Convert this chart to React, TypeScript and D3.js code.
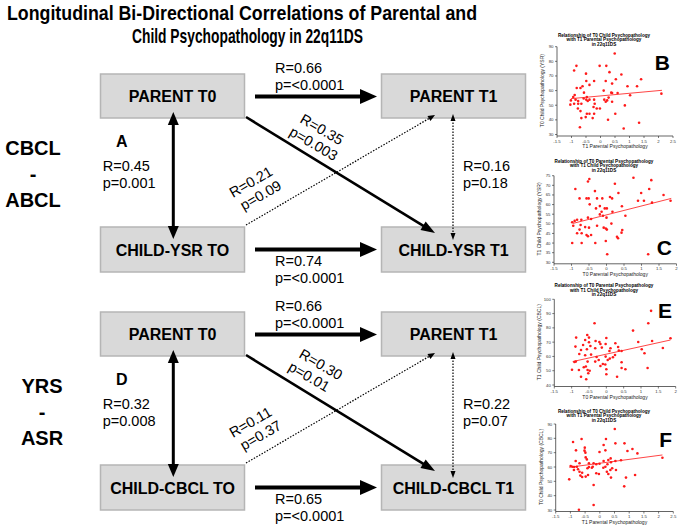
import React from "react";
import * as d3 from "d3";

type Pt = [number, number];

// ---------------- Diagram text / statistics ----------------
const titleLines = [
  "Longitudinal Bi-Directional Correlations  of Parental and",
  "Child Psychopathology in 22q11DS",
];
const sectionLabels = [
  ["CBCL", "-", "ABCL"],
  ["YRS", "-", "ASR"],
];
const panelLetters = ["A", "D"];
const parentBoxLabels = [
  ["PARENT T0", "PARENT T1"],
  ["PARENT T0", "PARENT T1"],
];
const childBoxLabels = [
  ["CHILD-YSR TO", "CHILD-YSR T1"],
  ["CHILD-CBCL TO", "CHILD-CBCL T1"],
];
const parentStability = [
  ["R=0.66", "p=<0.0001"],
  ["R=0.66", "p=<0.0001"],
];
const childStability = [
  ["R=0.74", "p=<0.0001"],
  ["R=0.65", "p=<0.0001"],
];
const crossT0 = [
  ["R=0.45", "p=0.001"],
  ["R=0.32", "p=0.008"],
];
const crossT1 = [
  ["R=0.16", "p=0.18"],
  ["R=0.22", "p=0.07"],
];
const parentToChild = [
  ["R=0.35", "p=0.003"],
  ["R=0.30", "p=0.01"],
];
const childToParent = [
  ["R=0.21", "p=0.09"],
  ["R=0.11", "p=0.37"],
];

// ---------------- Scatter plot data ----------------
const titleChildToParent = [
  "Relationship of T0 Child Psychopathology",
  "with T1 Parental Psychopathology",
  "in 22q11DS",
];
const titleParentToChild = [
  "Relationship of T0 Parental Psychopathology",
  "with T1 Child Psychopathology",
  "in 22q11DS",
];
const xTicksWide = [-1.5, -1, -0.5, 0, 0.5, 1, 1.5, 2, 2.5];
const xTicksNarrow = [-1.5, -1, -0.5, 0, 0.5, 1, 1.5, 2];
const yTicksB = [30, 40, 50, 60, 70, 80, 90];
const yTicksC = [30, 35, 40, 45, 50, 55, 60, 65, 70, 75];
const yTicksE = [40, 50, 60, 70, 80, 90, 100];
const yTicksF = [30, 40, 50, 60, 70, 80, 90];

const plotBPoints: Pt[] = [
  [0.49, 85.4], [-0.83, 76.9], [-0.03, 76.9], [0.2, 76.9], [-0.91, 73.7], [0.31, 72.6],
  [-0.5, 71.6], [0.72, 71], [0.53, 67.8], [-0.49, 66.6], [-0.22, 66.6], [0.18, 66.6],
  [1.4, 67.8], [0.4, 64.8], [-0.38, 63.9], [0.93, 63], [1.26, 63], [-0.82, 61.8],
  [-0.69, 61.8], [-0.62, 63], [-0.57, 58.6], [0.37, 58.6], [0.11, 60], [-0.89, 57],
  [-1.02, 53.3], [-0.94, 55.6], [-0.86, 53.8], [-0.77, 52.9], [-0.77, 51], [-1.04, 50.4],
  [-0.91, 51], [-0.66, 51], [-0.78, 47.8], [-0.69, 46], [-0.58, 54.6], [-0.49, 53.8],
  [-0.44, 52.9], [-0.38, 53.8], [-0.22, 53.8], [-0.2, 51], [-0.47, 55.6], [-0.13, 47.8],
  [-0.02, 47.8], [-0.24, 48.8], [0.13, 53.8], [0.18, 52.4], [0.23, 53.3], [0.28, 55.2],
  [0.4, 52.4], [0.4, 58.4], [0.59, 58.4], [0.84, 49.9], [1.02, 56.8], [2.1, 57.9],
  [0.51, 44.2], [-0.47, 44.2], [-0.38, 44.2], [-0.22, 44.2], [-0.51, 41.9], [-0.66, 41.2],
  [-0.27, 41.2], [0.26, 40.1], [-0.71, 35], [0.8, 34.1], [1.33, 38],
];
const plotBFit: Pt[] = [[-1.02, 54.5], [2.12, 60.2]];

const plotCPoints: Pt[] = [
  [0.77, 73.9], [1.28, 72.7], [-0.49, 73.3], [-0.53, 72], [0.24, 70.8], [-0.89, 68.1],
  [-0.33, 67], [0.34, 66], [1.22, 68.1], [0.99, 66], [1.63, 65], [-0.77, 63.2],
  [-0.57, 63.2], [-0.51, 63.2], [-0.27, 63.2], [-0.12, 63.2], [0.1, 63.9], [0.16, 63.2],
  [0.9, 62], [1.07, 62], [1.3, 61], [1.83, 62], [-0.48, 60.1], [-0.19, 59.2],
  [-0.3, 58], [-0.05, 58], [0.01, 58], [0.44, 59.1], [-0.14, 56.3], [-0.19, 54.9],
  [-0.1, 54.2], [0, 53.2], [0.17, 56.3], [0.54, 54.2], [-0.53, 53.2], [-0.44, 52.5],
  [-0.84, 52.1], [-0.91, 51.5], [-0.98, 50.8], [-0.72, 52.1], [-0.95, 49], [-0.74, 49.4],
  [-0.61, 48.3], [-0.5, 48], [-0.08, 48], [-0.02, 47.6], [0.01, 47], [0.14, 50.1],
  [-0.27, 49], [-0.77, 47], [-0.84, 45.1], [-0.71, 45.1], [-0.57, 44.2], [-0.53, 43.5],
  [-0.44, 44.2], [0.3, 43.3], [0.33, 42.5], [0.43, 45.4], [0.45, 46.8], [-0.98, 40],
  [-0.71, 40], [-0.32, 40], [-0.02, 41.1], [0.02, 34.2], [1.19, 34.2],
];
const plotCFit: Pt[] = [[-0.96, 50.2], [1.85, 63.2]];

const plotEPoints: Pt[] = [
  [1.29, 91.9], [1.21, 83.2], [-0.34, 83.2], [0.77, 78.1], [-0.55, 75], [-0.5, 73.2],
  [-0.87, 73.2], [0, 72.9], [1.32, 70.8], [1.85, 72.7], [-0.31, 70.8], [-0.2, 70.1],
  [0.92, 70.1], [-0.5, 69.9], [-0.46, 67.3], [-0.61, 71.5], [-0.17, 68.7], [0.26, 69.2],
  [-0.02, 68.7], [-0.67, 68], [-0.89, 66.9], [-0.13, 66.2], [-0.32, 65.7], [0.34, 66.6],
  [0.12, 65.7], [1.63, 65.9], [-0.73, 64.5], [-0.56, 65], [0.09, 63.8], [0.36, 64.1],
  [0.44, 63.8], [1.02, 65], [1.1, 62.2], [-0.78, 61.7], [-0.61, 60.8], [-0.44, 61.3],
  [-0.02, 59.9], [0.1, 58.5], [0.19, 59.4], [0.04, 57.5], [-0.28, 59.6], [-0.22, 57.5],
  [0.25, 61], [-0.88, 56.4], [-0.92, 56.1], [-0.54, 56.4], [-0.32, 56.4], [-0.1, 54.7],
  [-0.17, 53.3], [-0.03, 54.3], [0.44, 55.9], [-0.65, 52.4], [-0.59, 52.9], [-0.54, 50.5],
  [-0.48, 50], [-0.52, 48.2], [-0.79, 50.5], [-0.99, 50.7], [0, 51], [0.44, 51.9],
  [0.55, 51], [1.19, 51.9], [-0.73, 45.8], [0, 47.5], [0.31, 45.8], [-0.58, 44],
];
const plotEFit: Pt[] = [[-0.97, 56.4], [1.85, 71.5]];

const plotFPoints: Pt[] = [
  [0.51, 86.5], [-0.91, 77.4], [-0.62, 79.5], [0.21, 79.5], [0.53, 76.5], [0.84, 76.5],
  [-0.51, 73.5], [0.13, 75.3], [1.11, 72.6], [-0.81, 71.6], [-0.52, 71.4], [-0.49, 70],
  [-0.01, 70.5], [0.19, 71.6], [0.94, 71.2], [1.28, 69.5], [2.13, 66.5], [0.37, 66],
  [-0.82, 64.2], [-0.69, 62.6], [-0.48, 66.7], [-0.44, 65.3], [-0.37, 62.6], [-0.21, 62.6],
  [-0.12, 61.9], [-0.01, 62.3], [0.13, 64.2], [0.29, 64.9], [0.38, 63.3], [0.53, 64.2],
  [0.72, 64.7], [-0.99, 60.7], [-0.93, 60.2], [-0.87, 60], [-0.78, 60.2], [-0.88, 57.9],
  [-0.74, 58.4], [-0.69, 56.7], [-0.6, 56], [-0.42, 59.1], [-0.37, 60], [-0.27, 59.5],
  [-0.24, 60.2], [0.12, 59.5], [0.19, 60.2], [0.26, 61.9], [0.42, 59.1], [0.36, 57.9],
  [0.55, 57.9], [0.24, 56.7], [0.29, 55.1], [-0.03, 55.1], [-0.66, 54], [-0.6, 53],
  [-0.48, 53.3], [-0.4, 54.4], [-0.12, 55.6], [0.38, 52.6], [1.2, 54.4], [0.89, 52.6],
  [-1.04, 51.4], [-0.21, 47.4], [0.83, 46.5], [-0.21, 33.5], [-0.71, 30.2],
];
const plotFFit: Pt[] = [[-1.04, 59.8], [2.13, 68.4]];

const panels = [
  { letter: "B", pts: plotBPoints, fit: plotBFit, xTicks: xTicksWide, yTicks: yTicksB, title: titleChildToParent, xLabel: "T1 Parental Psychopathology", yLabel: "T0 Child Psychopathology (YSR)" },
  { letter: "C", pts: plotCPoints, fit: plotCFit, xTicks: xTicksNarrow, yTicks: yTicksC, title: titleParentToChild, xLabel: "T0 Parental Psychopathology", yLabel: "T1 Child Psychopathology (YSR)" },
  { letter: "E", pts: plotEPoints, fit: plotEFit, xTicks: xTicksNarrow, yTicks: yTicksE, title: titleParentToChild, xLabel: "T0 Parental Psychopathology", yLabel: "T1 Child Psychopathology (CBCL)" },
  { letter: "F", pts: plotFPoints, fit: plotFFit, xTicks: xTicksWide, yTicks: yTicksF, title: titleChildToParent, xLabel: "T1 Parental Psychopathology", yLabel: "T0 Child Psychopathology (CBCL)" },
];

// layout of the four small plots
const panelLayout = [
  { x0: 557, x1: 673, yb: 134.5, yt: 46.7, tY: 36.5, lx: 670, ly: 70 },
  { x0: 554, x1: 676.5, yb: 262.3, yt: 175.7, tY: 162.5, lx: 672, ly: 255 },
  { x0: 554.3, x1: 675.7, yb: 385, yt: 299.3, tY: 287, lx: 672, ly: 318 },
  { x0: 555.7, x1: 673.3, yb: 510, yt: 424, tY: 412.5, lx: 672, ly: 447 },
];

const FONT = "'Liberation Sans', Arial, Helvetica, sans-serif";

function Arrow(props: {
  x1: number; y1: number; x2: number; y2: number; sw: number; len: number; wid: number;
  dash?: string; double?: boolean;
}) {
  const { x1, y1, x2, y2, sw, len, wid, dash, double } = props;
  const dx = x2 - x1, dy = y2 - y1;
  const d = Math.hypot(dx, dy);
  const ux = dx / d, uy = dy / d;
  const px = -uy, py = ux;
  const head = (tx: number, ty: number, vx: number, vy: number) => {
    const bx = tx - vx * len, by = ty - vy * len;
    return `${tx},${ty} ${bx + px * wid / 2},${by + py * wid / 2} ${bx - px * wid / 2},${by - py * wid / 2}`;
  };
  const sx1 = double ? x1 + ux * len * 0.8 : x1;
  const sy1 = double ? y1 + uy * len * 0.8 : y1;
  const sx2 = x2 - ux * len * 0.8;
  const sy2 = y2 - uy * len * 0.8;
  return (
    <g>
      <line x1={sx1} y1={sy1} x2={sx2} y2={sy2} stroke="#000" strokeWidth={sw} strokeDasharray={dash} />
      <polygon points={head(x2, y2, ux, uy)} fill="#000" />
      {double && <polygon points={head(x1, y1, -ux, -uy)} fill="#000" />}
    </g>
  );
}

const diagPos = [
  { pc: [299, 122], cp: [233, 198] },
  { pc: [298, 357], cp: [233, 438] },
];

function Diagram({ i, off }: { i: number; off: number }) {
  const boxL = { x: 100.5, w: 144 };
  const boxR = { x: 381.5, w: 144 };
  const topY = 74 + off, topH = 44;
  const botY = 227 + off, botH = 45;
  const boxFill = "#d9d9d9";
  const boxStroke = "#b5b5b5";
  const labelStyle = { fontFamily: FONT, fontSize: 16, fontWeight: 700 } as const;
  const statStyle = { fontFamily: FONT, fontSize: 14.5 } as const;
  const sec = sectionLabels[i];
  const secX = i === 0 ? 33 : 42;
  const pos = diagPos[i];
  return (
    <g>
      {/* section label */}
      <g style={{ fontFamily: FONT, fontSize: 20, fontWeight: 700 }} textAnchor="middle">
        <text x={secX} y={155 + off}>{sec[0]}</text>
        <text x={secX} y={181 + off}>{sec[1]}</text>
        <text x={secX} y={207 + off}>{sec[2]}</text>
      </g>
      {/* boxes */}
      {[
        [boxL, topY, topH, parentBoxLabels[i][0]],
        [boxR, topY, topH, parentBoxLabels[i][1]],
        [boxL, botY, botH, childBoxLabels[i][0]],
        [boxR, botY, botH, childBoxLabels[i][1]],
      ].map(([b, y, h, lab]: any, k) => (
        <g key={k}>
          <rect x={b.x} y={y} width={b.w} height={h} fill={boxFill} stroke={boxStroke} strokeWidth={1.5} />
          <text x={b.x + b.w / 2} y={y + h / 2 + 6} textAnchor="middle" style={labelStyle}>{lab}</text>
        </g>
      ))}
      {/* horizontal stability arrows */}
      <Arrow x1={255} y1={96.5 + off} x2={377} y2={96.5 + off} sw={4} len={17} wid={15} />
      <Arrow x1={255} y1={249.5 + off} x2={377} y2={249.5 + off} sw={4} len={17} wid={15} />
      {/* vertical T0 cross-sectional */}
      <Arrow x1={173.3} y1={112 + off} x2={173.3} y2={239 + off} sw={3} len={13} wid={11} double />
      {/* vertical T1 cross-sectional dotted */}
      <Arrow x1={453} y1={114 + off} x2={453} y2={240 + off} sw={1.2} len={7} wid={5} dash="1.5,1.5" double />
      {/* parent T0 -> child T1 */}
      <Arrow x1={246} y1={117 + off} x2={435} y2={233 + off} sw={2.6} len={14} wid={10} />
      {/* child T0 -> parent T1 dotted */}
      <Arrow x1={246} y1={225 + off} x2={435} y2={115 + off} sw={1.2} len={7} wid={6} dash="1.5,1.5" />

      {/* stat labels */}
      <g style={statStyle}>
        <text x={275} y={73 + off}>{parentStability[i][0]}</text>
        <text x={275} y={90 + off}>{parentStability[i][1]}</text>
        <text x={275} y={266 + off}>{childStability[i][0]}</text>
        <text x={275} y={283 + off}>{childStability[i][1]}</text>
        <text x={102.7} y={171 + off}>{crossT0[i][0]}</text>
        <text x={102.7} y={188 + off}>{crossT0[i][1]}</text>
        <text x={463} y={171 + off}>{crossT1[i][0]}</text>
        <text x={463} y={188 + off}>{crossT1[i][1]}</text>
        <g transform={`translate(${pos.pc[0]},${pos.pc[1]}) rotate(30)`}>
          <text x={0} y={0}>{parentToChild[i][0]}</text>
          <text x={-3} y={16.5}>{parentToChild[i][1]}</text>
        </g>
        <g transform={`translate(${pos.cp[0]},${pos.cp[1]}) rotate(-30)`}>
          <text x={0} y={0}>{childToParent[i][0]}</text>
          <text x={3} y={16.5}>{childToParent[i][1]}</text>
        </g>
      </g>
      <text x={116} y={147 + off} style={{ fontFamily: FONT, fontSize: 16, fontWeight: 700 }}>{panelLetters[i]}</text>
    </g>
  );
}

function Scatter({ p, l }: { p: (typeof panels)[number]; l: (typeof panelLayout)[number] }) {
  const xT = p.xTicks, yT = p.yTicks;
  const x = d3.scaleLinear().domain([xT[0], xT[xT.length - 1]]).range([l.x0, l.x1]);
  const y = d3.scaleLinear().domain([yT[0], yT[yT.length - 1]]).range([l.yb, l.yt]);
  const axisY = l.yb + 1.5;
  const line = d3.line<Pt>().x((d) => x(d[0])).y((d) => y(d[1]));
  const cx = 604;
  const tickFont = { fontFamily: FONT, fontSize: 4.3, fill: "#333" } as const;
  return (
    <g>
      <g textAnchor="middle" style={{ fontFamily: FONT, fontSize: 4.6, fontWeight: 700 }}>
        {p.title.map((t, k) => (
          <text key={k} x={cx} y={l.tY + k * 4.6}>{t}</text>
        ))}
      </g>
      {/* y axis */}
      <line x1={l.x0} x2={l.x0} y1={axisY} y2={l.yt} stroke="#222" strokeWidth={0.7} />
      {yT.map((t) => (
        <g key={t}>
          <line x1={l.x0 - 2} x2={l.x0} y1={y(t)} y2={y(t)} stroke="#222" strokeWidth={0.6} />
          <text x={l.x0 - 3.5} y={y(t) + 1.5} textAnchor="end" style={tickFont}>{t}</text>
        </g>
      ))}
      {/* x axis */}
      <line x1={l.x0} x2={l.x1} y1={axisY} y2={axisY} stroke="#222" strokeWidth={0.7} />
      {xT.map((t) => (
        <g key={t}>
          <line x1={x(t)} x2={x(t)} y1={axisY} y2={axisY + 2} stroke="#222" strokeWidth={0.6} />
          <text x={x(t)} y={axisY + 6.5} textAnchor="middle" style={tickFont}>{t}</text>
        </g>
      ))}
      <text x={(l.x0 + l.x1) / 2} y={axisY + 12} textAnchor="middle" style={{ fontFamily: FONT, fontSize: 5, fill: "#222" }}>
        {p.xLabel}
      </text>
      <text
        transform={`translate(${l.x0 - 13},${(l.yb + l.yt) / 2}) rotate(-90)`}
        textAnchor="middle"
        style={{ fontFamily: FONT, fontSize: 5, fill: "#222" }}
      >
        {p.yLabel}
      </text>
      <path d={line(p.fit) || ""} stroke="#ff3030" strokeWidth={0.9} fill="none" />
      {p.pts.map((d, k) => (
        <circle key={k} cx={x(d[0])} cy={y(d[1])} r={1.3} fill="#ff1a1a" />
      ))}
      <text x={l.lx} y={l.ly} textAnchor="end" style={{ fontFamily: FONT, fontSize: 21, fontWeight: 700 }}>{p.letter}</text>
    </g>
  );
}

export default function App() {
  return (
    <svg
      width={679}
      height={528}
      viewBox="0 0 679 528"
      style={{ position: "absolute", left: 0, top: 0, background: "#fff" }}
    >
      <rect x={0} y={0} width={679} height={528} fill="#fff" />
      <g style={{ fontFamily: FONT, fontSize: 20.5, fontWeight: 700, whiteSpace: "pre" }}>
        <text x={7} y={20} textLength={470} lengthAdjust="spacingAndGlyphs">{titleLines[0]}</text>
        <text x={132} y={43} textLength={231} lengthAdjust="spacingAndGlyphs">{titleLines[1]}</text>
      </g>
      <Diagram i={0} off={0} />
      <Diagram i={1} off={238} />
      {panels.map((p, k) => (
        <Scatter key={k} p={p} l={panelLayout[k]} />
      ))}
    </svg>
  );
}
